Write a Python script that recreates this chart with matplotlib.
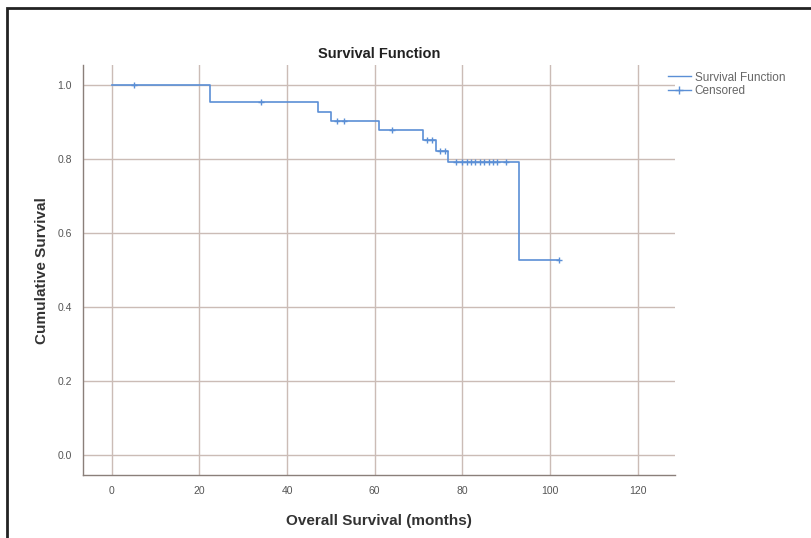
import numpy as np
import matplotlib
matplotlib.use("Agg")
import matplotlib.pyplot as plt
from matplotlib.lines import Line2D
from matplotlib.patches import Rectangle

plt.rcParams['font.family'] = ['Liberation Sans', 'DejaVu Sans']

# step points of the Kaplan-Meier curve (months, cumulative survival)
event_times = [0, 22.5, 47, 50, 61, 71, 74, 76.8, 93, 102]
survival = [1.0, 0.953, 0.928, 0.904, 0.879, 0.851, 0.822, 0.793, 0.528, 0.528]

# censored observations (months)
censored_times = [5, 34, 51.5, 53, 64, 72, 73, 75, 76, 78.5, 80, 81, 82, 83,
                  84, 85, 86, 87, 88, 90, 102]

x_ticks = [0, 20, 40, 60, 80, 100, 120]
y_ticks = [0.0, 0.2, 0.4, 0.6, 0.8, 1.0]

line_col = '#5b8fd6'
grid_col = '#cbbcb6'
text_col = '#555555'

fig = plt.figure(figsize=(8.12, 5.38), dpi=100)
ax = fig.add_axes([0.102, 0.117, 0.729, 0.762])

ax.step(event_times, survival, where='post', color=line_col, lw=1.2, zorder=3)

# survival level at each censored time
idx = np.searchsorted(event_times, censored_times, side='right') - 1
cens_y = np.array(survival)[idx]
ax.plot(censored_times, cens_y, linestyle='none', marker='+', ms=5,
        mew=1.0, color=line_col, zorder=4)

ax.set_xlim(-6.6, 128.5)
ax.set_ylim(-0.054, 1.054)
ax.set_xticks(x_ticks)
ax.set_yticks(y_ticks)
ax.set_yticklabels([f"{v:.1f}" for v in y_ticks])
ax.tick_params(length=0, labelsize=7.5, colors=text_col, pad=8)
ax.grid(True, color=grid_col, lw=1.0)
ax.set_axisbelow(True)

for s in ['top', 'right']:
    ax.spines[s].set_visible(False)
for s in ['left', 'bottom']:
    ax.spines[s].set_color('#8a7f7a')
    ax.spines[s].set_linewidth(1.0)

ax.set_title("Survival Function", fontsize=10.5, fontweight='bold', color='#222222', pad=5)
ax.set_xlabel("Overall Survival (months)", fontsize=11, fontweight='bold', color='#333333', labelpad=13)
ax.set_ylabel("Cumulative Survival", fontsize=11, fontweight='bold', color='#333333', labelpad=6)

handles = [Line2D([], [], color=line_col, lw=1.0),
           Line2D([], [], color=line_col, lw=1.0, marker='+', ms=6)]
fig.legend(handles, ["Survival Function", "Censored"], loc='upper left',
           bbox_to_anchor=(0.815, 0.878), frameon=False, fontsize=8.5,
           labelcolor='#666666', handlelength=2.0, handletextpad=0.3,
           labelspacing=0.1, borderpad=0)

# outer black frame (bottom edge cut off in the source)
fig.patches.append(Rectangle((7 / 812, -0.05), 1.0, 1 - 8 / 538 + 0.05,
                             transform=fig.transFigure, fill=False,
                             edgecolor='#222222', lw=2.0))

fig.savefig("out.png", dpi=100)
